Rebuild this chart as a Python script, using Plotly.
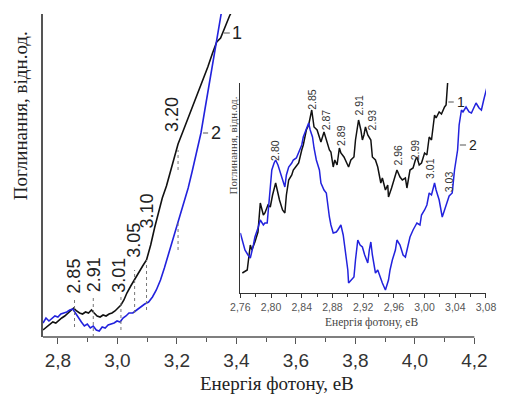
import plotly.graph_objects as go

# ---------------- data: main panel ----------------
main_e1 = [2.750, 2.763, 2.773, 2.783, 2.793, 2.803, 2.813, 2.823, 2.833, 2.843, 2.853, 2.863, 2.873, 2.883,
           2.893, 2.903, 2.913, 2.922, 2.932, 2.942, 2.952, 2.962, 2.972, 2.982, 2.992, 3.002, 3.012, 3.022,
           3.032, 3.045, 3.058, 3.072, 3.085, 3.098, 3.112, 3.125, 3.138, 3.151, 3.165, 3.178, 3.191, 3.204,
           3.221, 3.238, 3.254, 3.271, 3.287, 3.304, 3.320, 3.334, 3.347, 3.357, 3.367, 3.377, 3.387]
main_a1 = [7, 10, 12, 15, 14, 17, 19, 21, 24, 26, 29, 26, 24, 23,
           25, 24, 27, 24, 21, 20, 22, 21, 23, 24, 26, 29, 32, 37,
           44, 51, 58, 65, 71, 77, 92, 109, 125, 139, 151, 165, 179, 193,
           206, 219, 233, 245, 257, 270, 284, 295, 299, 307, 313, 321, 327]

main_e2 = [2.750, 2.760, 2.770, 2.780, 2.790, 2.800, 2.810, 2.820, 2.830, 2.840, 2.850, 2.859, 2.869, 2.879,
           2.889, 2.899, 2.909, 2.919, 2.929, 2.939, 2.949, 2.959, 2.969, 2.979, 2.989, 2.999, 3.009, 3.019,
           3.029, 3.039, 3.052, 3.065, 3.078, 3.092, 3.105, 3.118, 3.131, 3.145, 3.158, 3.171, 3.184, 3.198,
           3.211, 3.224, 3.238, 3.251, 3.264, 3.281, 3.294, 3.307, 3.320, 3.334, 3.347, 3.354]
main_a2 = [14, 19, 16, 19, 21, 20, 23, 24, 25, 27, 28, 24, 19, 15,
           11, 13, 9, 11, 7, 6, 10, 9, 12, 13, 14, 16, 15, 19,
           21, 24, 24, 27, 30, 33, 35, 40, 47, 57, 69, 82, 97, 110,
           124, 137, 149, 165, 182, 204, 227, 251, 274, 297, 322, 332]

main_peaks = ["2.85", "2.91", "3.01", "3.05", "3.10", "3.20"]

# ---------------- data: inset ----------------
ins_e1 = [2.7626, 2.769, 2.773, 2.775, 2.779, 2.783, 2.786, 2.790, 2.792, 2.796, 2.799, 2.802, 2.806, 2.809,
          2.811, 2.815, 2.818, 2.820, 2.823, 2.827, 2.829, 2.833, 2.836, 2.840, 2.842, 2.846, 2.849, 2.853,
          2.855, 2.856, 2.860, 2.863, 2.865, 2.869, 2.872, 2.876, 2.878, 2.881, 2.883, 2.886, 2.889, 2.891,
          2.895, 2.898, 2.901, 2.904, 2.908, 2.910, 2.914, 2.917, 2.919, 2.921, 2.923, 2.926, 2.930, 2.932,
          2.936, 2.939, 2.943, 2.945, 2.949, 2.952, 2.953, 2.957, 2.959, 2.962, 2.964, 2.968, 2.971, 2.975,
          2.977, 2.981, 2.985, 2.988, 2.990, 2.993, 2.996, 3.000, 3.003, 3.006, 3.009, 3.013, 3.015, 3.019,
          3.022, 3.026, 3.028, 3.030]
ins_a1 = [20, 23, 48, 43, 51, 61, 90, 78, 80, 88, 86, 98, 110, 98,
          93, 83, 80, 98, 113, 118, 123, 127, 130, 143, 148, 163, 168, 183,
          171, 166, 163, 155, 151, 161, 153, 143, 141, 126, 133, 128, 145, 140,
          136, 131, 126, 133, 136, 153, 173, 163, 153, 158, 166, 158, 153, 136,
          133, 126, 110, 115, 103, 108, 96, 105, 110, 118, 123, 116, 113, 115,
          105, 123, 125, 133, 136, 128, 130, 140, 138, 156, 153, 178, 175, 181,
          179, 186, 188, 210]

ins_e2 = [2.760, 2.764, 2.766, 2.770, 2.773, 2.777, 2.779, 2.783, 2.786, 2.790, 2.792, 2.795, 2.799, 2.801,
          2.804, 2.806, 2.809, 2.811, 2.815, 2.818, 2.820, 2.823, 2.827, 2.829, 2.833, 2.836, 2.840, 2.842,
          2.846, 2.849, 2.851, 2.854, 2.856, 2.859, 2.863, 2.865, 2.869, 2.872, 2.876, 2.878, 2.881, 2.885,
          2.887, 2.891, 2.894, 2.898, 2.900, 2.901, 2.905, 2.908, 2.910, 2.913, 2.916, 2.919, 2.922, 2.926,
          2.928, 2.930, 2.932, 2.936, 2.939, 2.943, 2.945, 2.949, 2.953, 2.955, 2.958, 2.962, 2.964, 2.968,
          2.972, 2.975, 2.979, 2.981, 2.985, 2.988, 2.990, 2.994, 2.996, 3.000, 3.003, 3.006, 3.009, 3.013,
          3.015, 3.019, 3.023, 3.026, 3.030, 3.032, 3.036, 3.039, 3.043, 3.045, 3.048, 3.050, 3.054, 3.058,
          3.061, 3.065, 3.067, 3.071, 3.074, 3.077, 3.081]
ins_a2 = [60, 50, 43, 38, 35, 48, 56, 65, 73, 68, 70, 70, 106, 123,
          130, 133, 128, 123, 113, 106, 118, 126, 130, 133, 135, 140, 148, 156,
          165, 170, 163, 156, 145, 133, 123, 110, 103, 100, 76, 68, 60, 61,
          63, 68, 58, 36, 23, 10, 13, 16, 33, 53, 48, 46, 38, 30,
          43, 51, 38, 20, 23, 13, 10, 3, 13, 23, 33, 43, 53, 48,
          38, 36, 48, 56, 63, 68, 70, 68, 78, 83, 88, 100, 98, 110,
          103, 93, 76, 83, 93, 97, 100, 123, 143, 168, 183, 181, 186, 181,
          180, 188, 190, 185, 183, 193, 205]

ins_peaks = ["2.80", "2.85", "2.87", "2.89", "2.91", "2.93", "2.96", "2.99", "3.01", "3.03"]

# ---------------- styling / positions ----------------
BLACK = "#111111"
BLUE = "#2222dd"
AXC = "#555555"
SANS = "Liberation Sans, Arial, sans-serif"
SERIF = "Liberation Serif, Times New Roman, serif"

W, H = 508, 394
L, R, T, B = 43, 16, 14, 57
PW, PH = W - L - R, H - T - B


def px(x):
    return (x - L) / PW


def py(y):
    return (H - B - y) / PH


fig = go.Figure()
fig.add_trace(go.Scatter(x=main_e1, y=main_a1, mode="lines", line=dict(color=BLACK, width=1.6),
                         xaxis="x", yaxis="y", showlegend=False, cliponaxis=True))
fig.add_trace(go.Scatter(x=main_e2, y=main_a2, mode="lines", line=dict(color=BLUE, width=1.6),
                         xaxis="x", yaxis="y", showlegend=False))
fig.add_trace(go.Scatter(x=ins_e1, y=ins_a1, mode="lines", line=dict(color=BLACK, width=1.5),
                         xaxis="x2", yaxis="y2", showlegend=False))
fig.add_trace(go.Scatter(x=ins_e2, y=ins_a2, mode="lines", line=dict(color=BLUE, width=1.5),
                         xaxis="x2", yaxis="y2", showlegend=False))

x_right = 2.75 + PW / 301.5

fig.update_layout(
    width=W, height=H, margin=dict(l=L, r=R, t=T, b=B, pad=0),
    paper_bgcolor="white", plot_bgcolor="rgba(0,0,0,0)",
    separators=",.",
    xaxis=dict(range=[2.75, x_right], domain=[0, 1], showgrid=False, zeroline=False, showline=False,
               tick0=2.8, dtick=0.2, tickformat=".1f", ticks="outside", ticklen=6, tickwidth=1.3,
               tickcolor=AXC, tickfont=dict(family=SANS, size=19, color="#333"),
               minor=dict(dtick=0.1, tick0=2.8, ticks="outside", ticklen=4, tickcolor=AXC, tickwidth=1.2)),
    yaxis=dict(range=[0, 323], domain=[0, 1], showgrid=False, zeroline=False, showline=True,
               linecolor=AXC, linewidth=1.5, showticklabels=False, ticks=""),
    xaxis2=dict(range=[2.76, 3.08], domain=[px(243), 1], anchor="y2", showgrid=False, zeroline=False,
                showline=True, linecolor="#333", linewidth=1.3,
                tick0=2.76, dtick=0.04, tickformat=".2f", ticks="outside", ticklen=4, tickwidth=1,
                tickcolor="#333", tickfont=dict(family=SANS, size=10.5, color="#555"),
                minor=dict(dtick=0.02, tick0=2.76, ticks="outside", ticklen=3, tickcolor="#333", tickwidth=1)),
    yaxis2=dict(range=[0, 210], domain=[py(293), py(83)], anchor="x2", showgrid=False, zeroline=False,
                showline=True, linecolor="#333", linewidth=1.3, showticklabels=False, ticks=""),
)

shapes = []
# main x-axis line up to 4.2
shapes.append(dict(type="line", xref="x", yref="paper", x0=2.75, x1=4.2, y0=0, y1=0,
                   line=dict(color=AXC, width=1.5)))

# dotted markers in main panel: (energy, y0, y1)
main_dots = [(2.856, 10, 40), (2.919, 0, 40), (3.012, 7, 40), (3.058, 24, 67), (3.098, 27, 77),
             (3.204, 87, 117), (3.204, 167, 187)]
for e, a0, a1 in main_dots:
    shapes.append(dict(type="line", xref="x", yref="y", x0=e, x1=e, y0=a0, y1=a1,
                       line=dict(color="#777", width=1, dash="dot")))

# leader lines for curve numbers
shapes.append(dict(type="line", xref="x", yref="y", x0=3.358, x1=3.378, y0=304, y1=304,
                   line=dict(color="#555", width=1)))
shapes.append(dict(type="line", xref="x", yref="y", x0=3.288, x1=3.305, y0=204, y1=204,
                   line=dict(color="#555", width=1)))
shapes.append(dict(type="line", xref="x2", yref="y2", x0=3.031, x1=3.038, y0=191, y1=191,
                   line=dict(color="#555", width=1)))
shapes.append(dict(type="line", xref="x2", yref="y2", x0=3.046, x1=3.054, y0=148, y1=148,
                   line=dict(color="#555", width=1)))

ann = []
# main peak labels (rotated)
main_label_pos = [(2.853, 61), (2.922, 62), (3.005, 62), (3.055, 97), (3.098, 126), (3.184, 222)]
for txt, (e, a) in zip(main_peaks, main_label_pos):
    ann.append(dict(x=e, y=a, xref="x", yref="y", text=txt, showarrow=False, textangle=-90,
                    xanchor="center", yanchor="middle", font=dict(family=SANS, size=18, color="#222")))

ins_label_pos = [(2.805, 143), (2.853, 194), (2.872, 173), (2.891, 158), (2.914, 188), (2.932, 173),
                 (2.966, 138), (2.988, 143), (3.007, 125), (3.032, 111)]
for txt, (e, a) in zip(ins_peaks, ins_label_pos):
    ann.append(dict(x=e, y=a, xref="x2", yref="y2", text=txt, showarrow=False, textangle=-90,
                    xanchor="center", yanchor="middle", font=dict(family=SANS, size=10.5, color="#333")))

# curve numbers
ann.append(dict(x=3.38, y=304, xref="x", yref="y", text="1", showarrow=False, xanchor="left",
                yanchor="middle", font=dict(family=SANS, size=18, color="#222")))
ann.append(dict(x=3.307, y=204, xref="x", yref="y", text="2", showarrow=False, xanchor="left",
                yanchor="middle", font=dict(family=SANS, size=18, color="#222")))
ann.append(dict(x=3.039, y=191, xref="x2", yref="y2", text="1", showarrow=False, xanchor="left",
                yanchor="middle", font=dict(family=SANS, size=14, color="#222")))
ann.append(dict(x=3.055, y=148, xref="x2", yref="y2", text="2", showarrow=False, xanchor="left",
                yanchor="middle", font=dict(family=SANS, size=14, color="#222")))

# axis titles
ann.append(dict(x=px(20), y=py(116), xref="paper", yref="paper", text="Поглинання, відн.од.",
                showarrow=False, textangle=-90, xanchor="center", yanchor="middle",
                font=dict(family=SERIF, size=19, color="#222")))
ann.append(dict(x=px(280), y=py(383), xref="paper", yref="paper", text="Енергія фотону, еВ",
                showarrow=False, xanchor="center", yanchor="middle",
                font=dict(family=SERIF, size=19, color="#222")))
ann.append(dict(x=px(236), y=py(145), xref="paper", yref="paper", text="Поглинання, відн.од.",
                showarrow=False, textangle=-90, xanchor="center", yanchor="middle",
                font=dict(family=SERIF, size=11, color="#444")))
ann.append(dict(x=px(376), y=py(322), xref="paper", yref="paper", text="Енергія фотону, еВ",
                showarrow=False, xanchor="center", yanchor="middle",
                font=dict(family=SERIF, size=11.5, color="#444")))

fig.update_layout(shapes=shapes, annotations=ann)
fig.write_html("out.html")
